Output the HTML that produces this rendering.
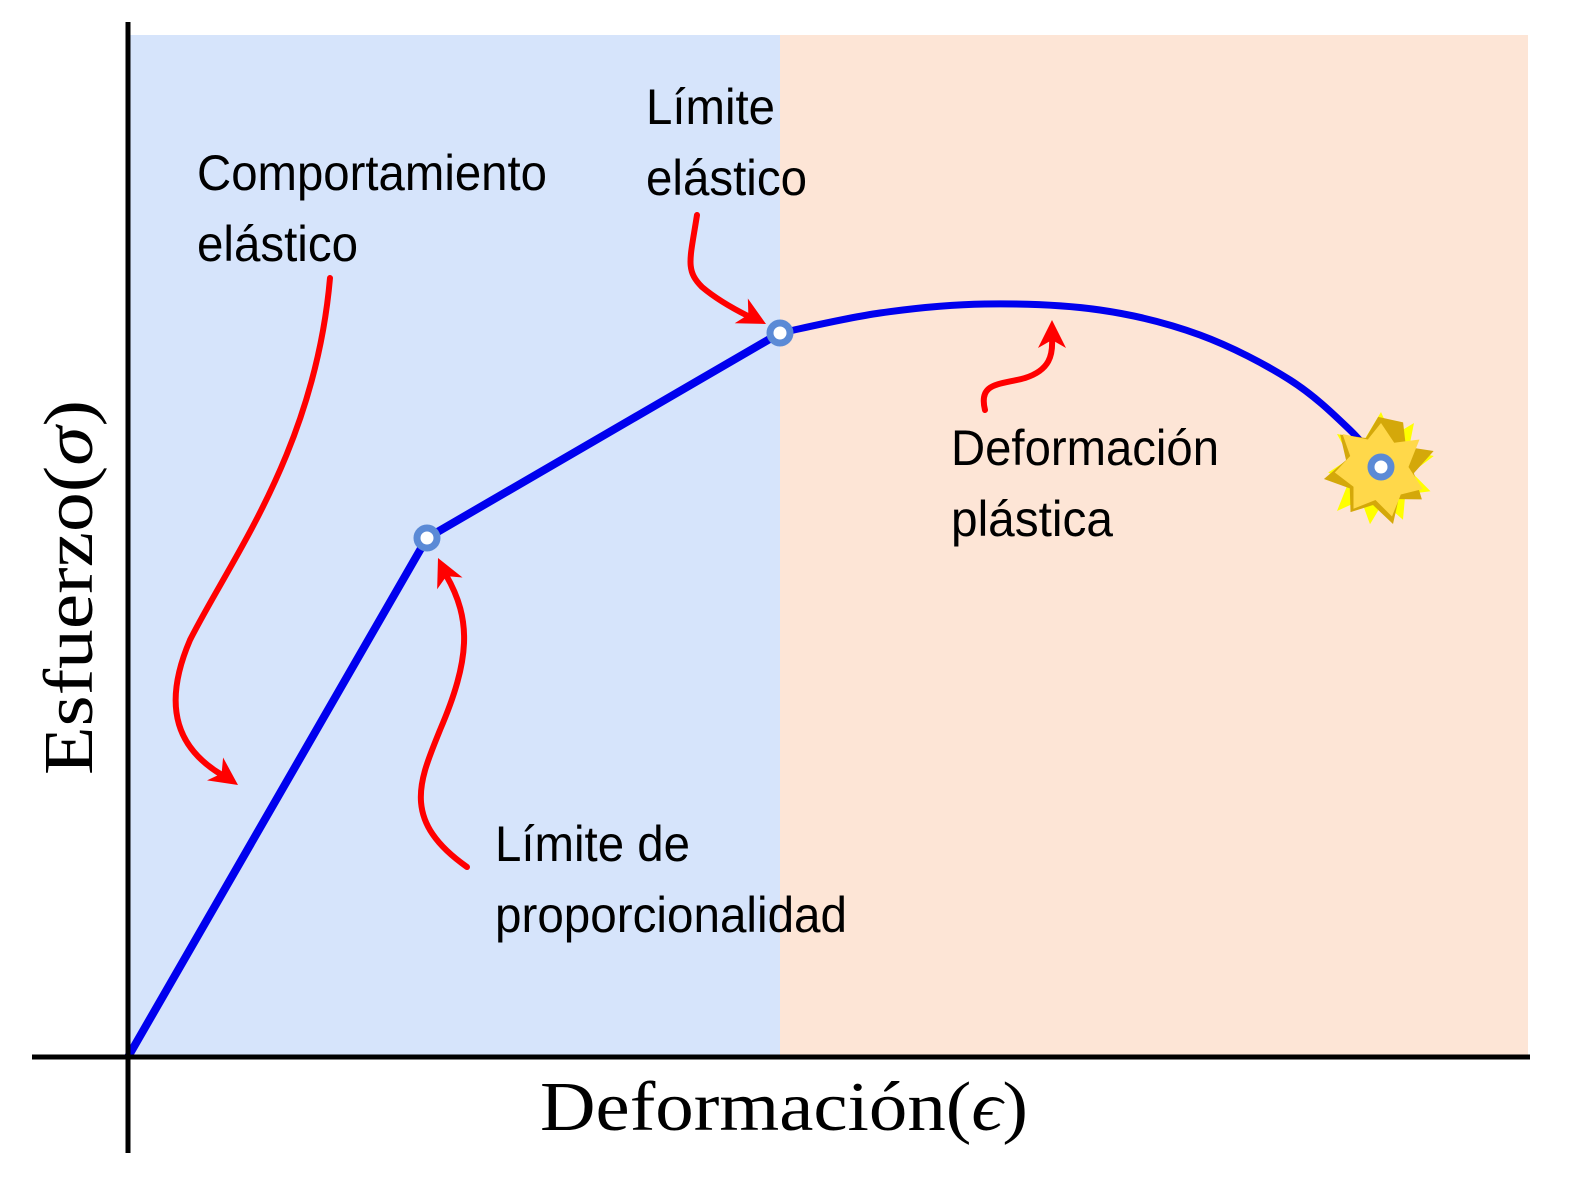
<!DOCTYPE html>
<html><head><meta charset="utf-8"><style>
html,body{margin:0;padding:0;background:#fff}
svg{display:block}
.lab{font-family:"Liberation Sans",sans-serif;font-size:50px;fill:#000}
.ax{font-family:"Liberation Serif",serif;font-size:70px;fill:#000}
</style></head><body>
<svg width="1592" height="1194" viewBox="0 0 1592 1194">
<rect x="128" y="35" width="652" height="1022" fill="#d6e4fb"/>
<rect x="780" y="35" width="748" height="1022" fill="#fde5d6"/>
<g id="curves"></g>
<line x1="32" y1="1057" x2="1530" y2="1057" stroke="#000" stroke-width="5"/>
<line x1="128" y1="22" x2="128" y2="1153" stroke="#000" stroke-width="5"/>
<g transform="translate(1381,467) scale(1.1)">
<polygon points="0,-50 10,-28 30,-40 25,-15 48,-10 28,5 45,22 22,25 20,48 2,32 -10,52 -18,30 -40,40 -30,15 -48,5 -28,-8 -40,-30 -15,-25" fill="#ffff00"/>
<polygon points="5,-45 15,-25 40,-30 30,-5 45,15 25,22 28,45 5,35 -12,48 -20,28 -45,28 -32,5 -45,-15 -22,-20 -18,-42" fill="#d4a80a" transform="rotate(20)"/>
<polygon points="0,-40 12,-22 35,-25 25,0 38,20 18,25 10,45 -5,30 -25,38 -25,18 -42,5 -28,-10 -35,-30 -12,-25" fill="#ffd84a"/>
</g>
<g id="marks"></g>
<g fill="none" stroke="#f00" stroke-width="6" stroke-linecap="round">
<path d="M330,278 C315,450 230,560 190,640 C160,710 180,750 222,775"/>
<path d="M467,867 C400,820 420,780 440,730 C470,660 472,620 446,575"/>
<path d="M697,215 C690,260 685,270 702,287 C715,298 730,307 748,316"/>
<path d="M985,410 C978,382 1000,385 1025,378 C1050,370 1053,355 1052,338"/>
</g>
<g fill="#f00">
<polygon transform="translate(238,785) rotate(35)" points="0,0 -28,-14 -20,0 -28,14"/>
<polygon transform="translate(438,558) rotate(-115)" points="0,0 -28,-14 -20,0 -28,14"/>
<polygon transform="translate(766,324) rotate(28)" points="0,0 -28,-14 -20,0 -28,14"/>
<polygon transform="translate(1052,320) rotate(-90)" points="0,0 -28,-14 -20,0 -28,14"/>
</g>
<text class="lab" x="197" y="190" textLength="350" lengthAdjust="spacingAndGlyphs">Comportamiento</text>
<text class="lab" x="197" y="261" textLength="161" lengthAdjust="spacingAndGlyphs">elástico</text>
<text class="lab" x="646" y="124" textLength="129" lengthAdjust="spacingAndGlyphs">Límite</text>
<text class="lab" x="646" y="195" textLength="161" lengthAdjust="spacingAndGlyphs">elástico</text>
<text class="lab" x="951" y="465" textLength="268" lengthAdjust="spacingAndGlyphs">Deformación</text>
<text class="lab" x="951" y="536" textLength="162" lengthAdjust="spacingAndGlyphs">plástica</text>
<text class="lab" x="495" y="861" textLength="195" lengthAdjust="spacingAndGlyphs">Límite de</text>
<text class="lab" x="495" y="932" textLength="352" lengthAdjust="spacingAndGlyphs">proporcionalidad</text>
<text class="ax" x="540" y="1130" textLength="488" lengthAdjust="spacingAndGlyphs">Deformación(<tspan font-style="italic">ϵ</tspan>)</text>
<text class="ax" transform="translate(92,775) rotate(-90)" x="0" y="0" textLength="375" lengthAdjust="spacingAndGlyphs">Esfuerzo(<tspan font-style="italic">σ</tspan>)</text>
</svg>
<script>
const linStrain=[0,2.99,6.52];
const linStress=[0,5.19,7.24];
const plStrain=[6.52,7.52,8.57,9.72,10.72,11.62,12.22,12.53];
const plStress=[7.24,7.44,7.53,7.47,7.22,6.77,6.27,5.90];
const keyStrain=[2.99,6.52,12.53];
const keyStress=[5.19,7.24,5.90];
const NS="http://www.w3.org/2000/svg";
function xs(v){return 128+100*v;}
function ys(v){return 1057-100*v;}
const g=document.getElementById('curves');
let d=linStrain.map((s,i)=>(i?'L':'M')+xs(s)+','+ys(linStress[i])).join(' ');
const p1=document.createElementNS(NS,'path');
p1.setAttribute('d',d);p1.setAttribute('fill','none');p1.setAttribute('stroke','#0000ee');p1.setAttribute('stroke-width','8');


g.appendChild(p1);
const P=plStrain.map((s,i)=>[xs(s),ys(plStress[i])]);
let d2='M'+P[0][0]+','+P[0][1];
for(let i=0;i<P.length-1;i++){
 const p0=P[i-1]||P[i],a=P[i],b=P[i+1],p3=P[i+2]||b;
 const c1=[a[0]+(b[0]-p0[0])/6,a[1]+(b[1]-p0[1])/6],c2=[b[0]-(p3[0]-a[0])/6,b[1]-(p3[1]-a[1])/6];
 d2+=` C${c1[0]},${c1[1]} ${c2[0]},${c2[1]} ${b[0]},${b[1]}`;
}
const p2=document.createElementNS(NS,'path');
p2.setAttribute('d',d2);p2.setAttribute('fill','none');p2.setAttribute('stroke','#0000ee');p2.setAttribute('stroke-width','7');


g.appendChild(p2);
const m=document.getElementById('marks');
keyStrain.forEach((s,i)=>{
 const c=document.createElementNS(NS,'circle');
 c.setAttribute('cx',xs(s));c.setAttribute('cy',ys(keyStress[i]));c.setAttribute('r','10');
 c.setAttribute('fill','#fff');c.setAttribute('stroke','#5b8ad6');c.setAttribute('stroke-width','7');
 
 
 m.appendChild(c);
});
</script>
</body></html>
